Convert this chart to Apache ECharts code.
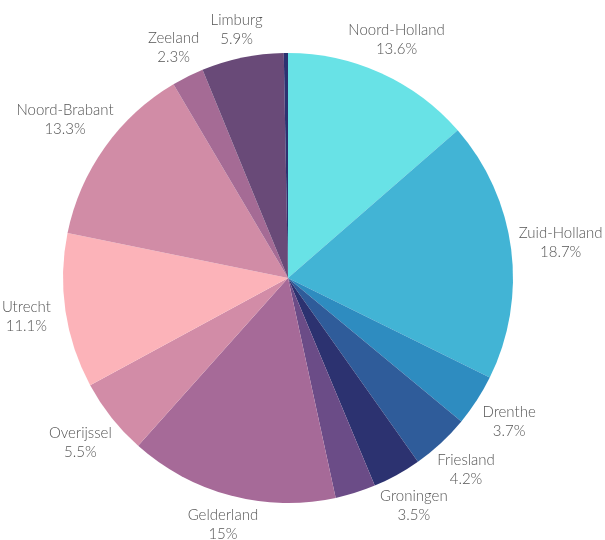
<!DOCTYPE html>
<html>
<head>
<meta charset="utf-8">
<script src="https://cdn.jsdelivr.net/npm/echarts@6/dist/echarts.min.js"></script>
<style>
  html, body { margin: 0; padding: 0; background: #ffffff; }
  #chart { width: 605px; height: 540px; }
</style>
</head>
<body>
<div id="chart"></div>
<script>
// Share per province (percent), clockwise from the top
const provinces = ['Noord-Holland', 'Zuid-Holland', 'Drenthe', 'Friesland', 'Groningen', 'Flevoland',
  'Gelderland', 'Overijssel', 'Utrecht', 'Noord-Brabant', 'Zeeland', 'Limburg', 'Onbekend'];
const shares = [13.6, 18.7, 3.7, 4.2, 3.5, 2.9, 15, 5.5, 11.1, 13.3, 2.3, 5.9, 0.3];
const labelled = [true, true, true, true, true, false, true, true, true, true, true, true, false];
const sliceColors = ['#68e2e6', '#42b4d5', '#2e8cc0', '#2f5c9a', '#2c3270', '#6b4c87',
  '#a66a98', '#d28ca7', '#fcb3b9', '#d18ca6', '#a56b95', '#694a78', '#2c3270'];

const chart = echarts.init(document.getElementById('chart'), null, { renderer: 'canvas' });

const pieData = provinces.map((name, i) => ({
  name: name,
  value: shares[i],
  itemStyle: { color: sliceColors[i] },
  label: { show: labelled[i] }
}));

chart.setOption({
  animation: false,
  backgroundColor: '#ffffff',
  series: [{
    type: 'pie',
    center: [288, 278],
    radius: 225,
    startAngle: 90,
    clockwise: true,
    avoidLabelOverlap: false,
    emphasis: { disabled: true },
    itemStyle: { borderWidth: 0 },
    label: {
      show: true,
      position: 'outside',
      formatter: '{b}\n{c}%',
      fontFamily: 'Lato',
      fontWeight: 300,
      fontSize: 15,
      lineHeight: 19,
      color: '#555555'
    },
    labelLine: { show: false },
    // centre each label on a point just beyond the rim, along the slice's mid-angle
    labelLayout: function (params) {
      const data = chart.getModel().getSeriesByIndex(0).getData();
      const lay = data.getItemLayout(params.dataIndex);
      const mid = (lay.startAngle + lay.endAngle) / 2;
      const dx = Math.cos(mid), dy = Math.sin(mid);
      const w = params.labelRect.width;
      const r = lay.r + 25 + 0.6 * Math.abs(dx) * w / 2;
      return {
        x: lay.cx + dx * r,
        y: lay.cy + dy * r,
        align: 'center',
        verticalAlign: 'middle'
      };
    },
    data: pieData
  }]
});
</script>
</body>
</html>
